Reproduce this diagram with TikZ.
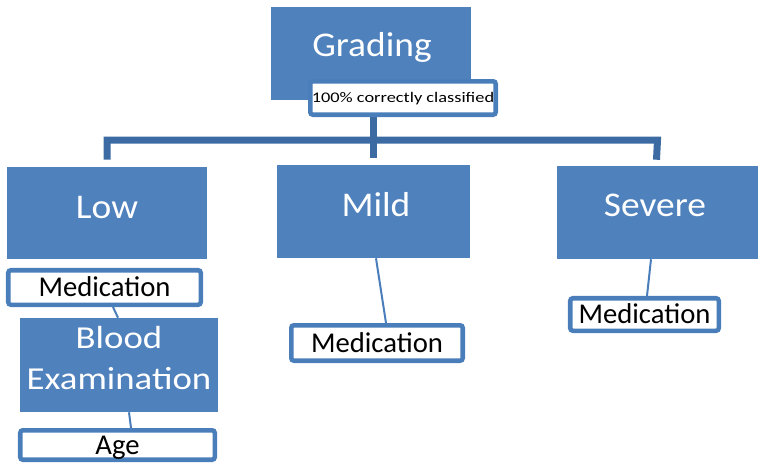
\documentclass[tikz,border=0pt]{standalone}
\usepackage{fontspec}
\setmainfont{Carlito}
\newfontfamily\bigfont[FakeStretch=1.08]{Carlito}
\newfontfamily\bloodfont[FakeStretch=1.15]{Carlito}
\newfontfamily\notefont[FakeStretch=1.25]{Carlito}
\usetikzlibrary{calc,backgrounds}
\definecolor{boxblue}{RGB}{79,129,189}
\definecolor{edgeblue}{RGB}{74,126,187}
\definecolor{busblue}{RGB}{60,106,163}
\begin{document}
\begin{tikzpicture}[x=0.75pt,y=-0.75pt,
  box/.style={fill=boxblue, draw=none, inner sep=0pt},
  boxtext/.style={text=white, anchor=base, inner sep=0pt, font=\bigfont\fontsize{26}{31}\selectfont},
  tag/.style={draw=edgeblue, line width=3.4pt, fill=white, rounded corners=2pt, inner sep=0pt,
              text height=13.85pt, text depth=0pt, font=\fontsize{21.5}{26}\selectfont},
  link/.style={draw=edgeblue, line width=1.5pt},
  bus/.style={draw=busblue, line width=5.25pt, line join=miter}]
\useasboundingbox (0,0) rectangle (758,464);

% top node
\node[box, minimum width=150pt, minimum height=69.75pt] (grading) at (371,53.5) {};
\node[boxtext] (gradingtxt) at (372,56) {Grading};
\node[tag, minimum width=139.1pt, minimum height=25.1pt, text height=7.1pt,
      font=\notefont\fontsize{11}{13}\selectfont] (acc) at (403,98) {100\% correctly classified};

% three grades
\node[box, minimum width=150pt, minimum height=69pt] (low) at (107,213) {};
\node[boxtext] (lowtxt) at (107,218) {Low};
\node[box, minimum width=144.75pt, minimum height=69.75pt] (mild) at (373.5,211.5) {};
\node[boxtext] (mildtxt) at (376,216) {Mild};
\node[box, minimum width=150.75pt, minimum height=69.75pt] (severe) at (657.5,212.5) {};
\node[boxtext] (severetxt) at (655,216) {Severe};

% low branch
\node[tag, minimum width=144.4pt, minimum height=25.9pt] (ml) at (104.5,287.5) {Medication};
\node[box, minimum width=148.5pt, minimum height=70.5pt] (blood) at (119,365) {};
\node[text=white, align=center, inner sep=0pt, anchor=center,
      font=\bloodfont\fontsize{24}{30.75}\selectfont] (bloodtxt) at (119,358) {Blood\\Examination};
\node[tag, minimum width=145.9pt, minimum height=22.1pt] (age) at (117.5,445) {Age};

% mild and severe branches
\node[tag, minimum width=128.6pt, minimum height=26.6pt] (mm) at (377,343) {Medication};
\node[tag, minimum width=111.4pt, minimum height=24.4pt] (ms) at (644.5,314.5) {Medication};

\begin{scope}[on background layer]
  \coordinate (busy) at (0,140);
  \draw[bus] ($(low.north)+(0,-7)$) -- (low.north |- busy) -- (severe.north |- busy)
             -- ($(severe.north)+(-1,-6)$);
  \draw[bus] (mild.north |- acc.south) -- ($(mild.north)+(0,-7)$);
  \draw[link] ($(mild.south)+(2.5,0)$) -- ($(mm.north)+(9,0)$);
  \draw[link] ($(severe.south)+(-6.5,0)$) -- ($(ms.north)+(2.5,0)$);
  \draw[link] ($(ml.south)+(8.5,0)$) -- ($(blood.north)+(-1,0)$);
  \draw[link] ($(blood.south)+(10,0)$) -- ($(age.north)+(13.5,0)$);
\end{scope}
\end{tikzpicture}
\end{document}
